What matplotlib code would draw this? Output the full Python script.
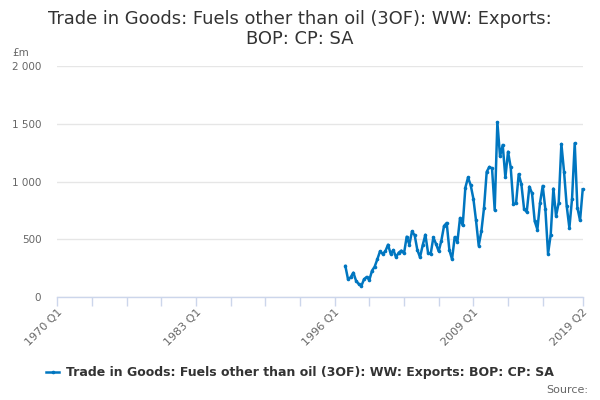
import matplotlib
matplotlib.use("Agg")
import matplotlib.pyplot as plt
from matplotlib.lines import Line2D

title = "Trade in Goods: Fuels other than oil (3OF): WW: Exports:\nBOP: CP: SA"
series_name = "Trade in Goods: Fuels other than oil (3OF): WW: Exports: BOP: CP: SA"
unit = "£m"
source = "Source:"

axis_start_year = 1970
axis_end = (2019, 2)
data_start = (1997, 1)

values = [271, 156, 173, 213, 144, 115, 98, 156, 176, 150, 230, 265, 329, 398,
          375, 398, 455, 375, 409, 346, 386, 404, 380, 524, 455, 571, 535, 409,
          346, 450, 541, 386, 375, 518, 461, 398, 490, 617, 643, 409, 329, 521,
          478, 686,
          621, 949, 1036, 969, 853, 664, 447, 571, 775, 1085, 1128, 1114, 754,
          1514, 1218, 1317, 1036, 1259, 1123, 804, 812, 1065, 978, 766, 737,
          957, 899, 658, 586, 818, 963, 760, 377, 542, 940, 702, 818, 1326,
          1085, 789, 600, 853, 1332, 775, 664, 934]

y_ticks = [0, 500, 1000, 1500, 2000]
y_tick_labels = ["0", "500", "1 000", "1 500", "2 000"]
x_label_quarters = [(1970, 1), (1983, 1), (1996, 1), (2009, 1), (2019, 2)]


def qidx(y, q):
    return (y - axis_start_year) * 4 + (q - 1)


def qlabel(y, q):
    return f"{y} Q{q}"


end_idx = qidx(*axis_end)
start_idx = qidx(*data_start)
xs = list(range(start_idx, start_idx + len(values)))

fig = plt.figure(figsize=(6, 4), dpi=100)
ax = fig.add_axes([0.0955, 0.2568, 0.8757, 0.5782])

color = "#0076c0"
ax.plot(xs, values, color=color, lw=1.8, marker="o", ms=2.6,
        markeredgewidth=0, zorder=3, clip_on=False)

ax.set_xlim(0, end_idx)
ax.set_ylim(0, 2000)

ax.set_yticks(y_ticks)
ax.set_yticklabels(y_tick_labels)
ax.yaxis.grid(True, color="#e6e6e6", lw=1)
ax.set_axisbelow(True)
ax.tick_params(axis="y", length=0, pad=11.5, labelsize=7.5, labelcolor="#666666")

major = list(range(0, end_idx - 10, 13)) + [end_idx]
ax.set_xticks(major)
lab_pos = {qidx(*q): qlabel(*q) for q in x_label_quarters}
ax.set_xticklabels([lab_pos.get(m, "") for m in major], rotation=45,
                   ha="right", va="top", rotation_mode="anchor")
ax.tick_params(axis="x", length=6.5, width=1, color="#ccd6eb", pad=0.8,
               labelsize=8, labelcolor="#666666")

for s in ["top", "right", "left"]:
    ax.spines[s].set_visible(False)
ax.spines["bottom"].set_color("#ccd6eb")
ax.spines["bottom"].set_linewidth(1)

fig.text(0.5, 0.975, title, ha="center", va="top", fontsize=12.9,
         color="#333333", linespacing=1.12)
fig.text(0.02, 0.8675, unit, ha="left", va="center", fontsize=7.5,
         color="#666666")

handle = Line2D([0], [0], color=color, lw=1.8, marker="o", ms=2.6,
                markeredgewidth=0)
fig.legend([handle], [series_name], loc="center", bbox_to_anchor=(0.5, 0.068),
           frameon=False, handlelength=1.05, handletextpad=0.55,
           prop={"size": 9, "weight": "bold"}, labelcolor="#333333")
fig.text(0.98, 0.025, source, ha="right", va="center", fontsize=8,
         color="#666666")

fig.savefig("out.png", dpi=100)
